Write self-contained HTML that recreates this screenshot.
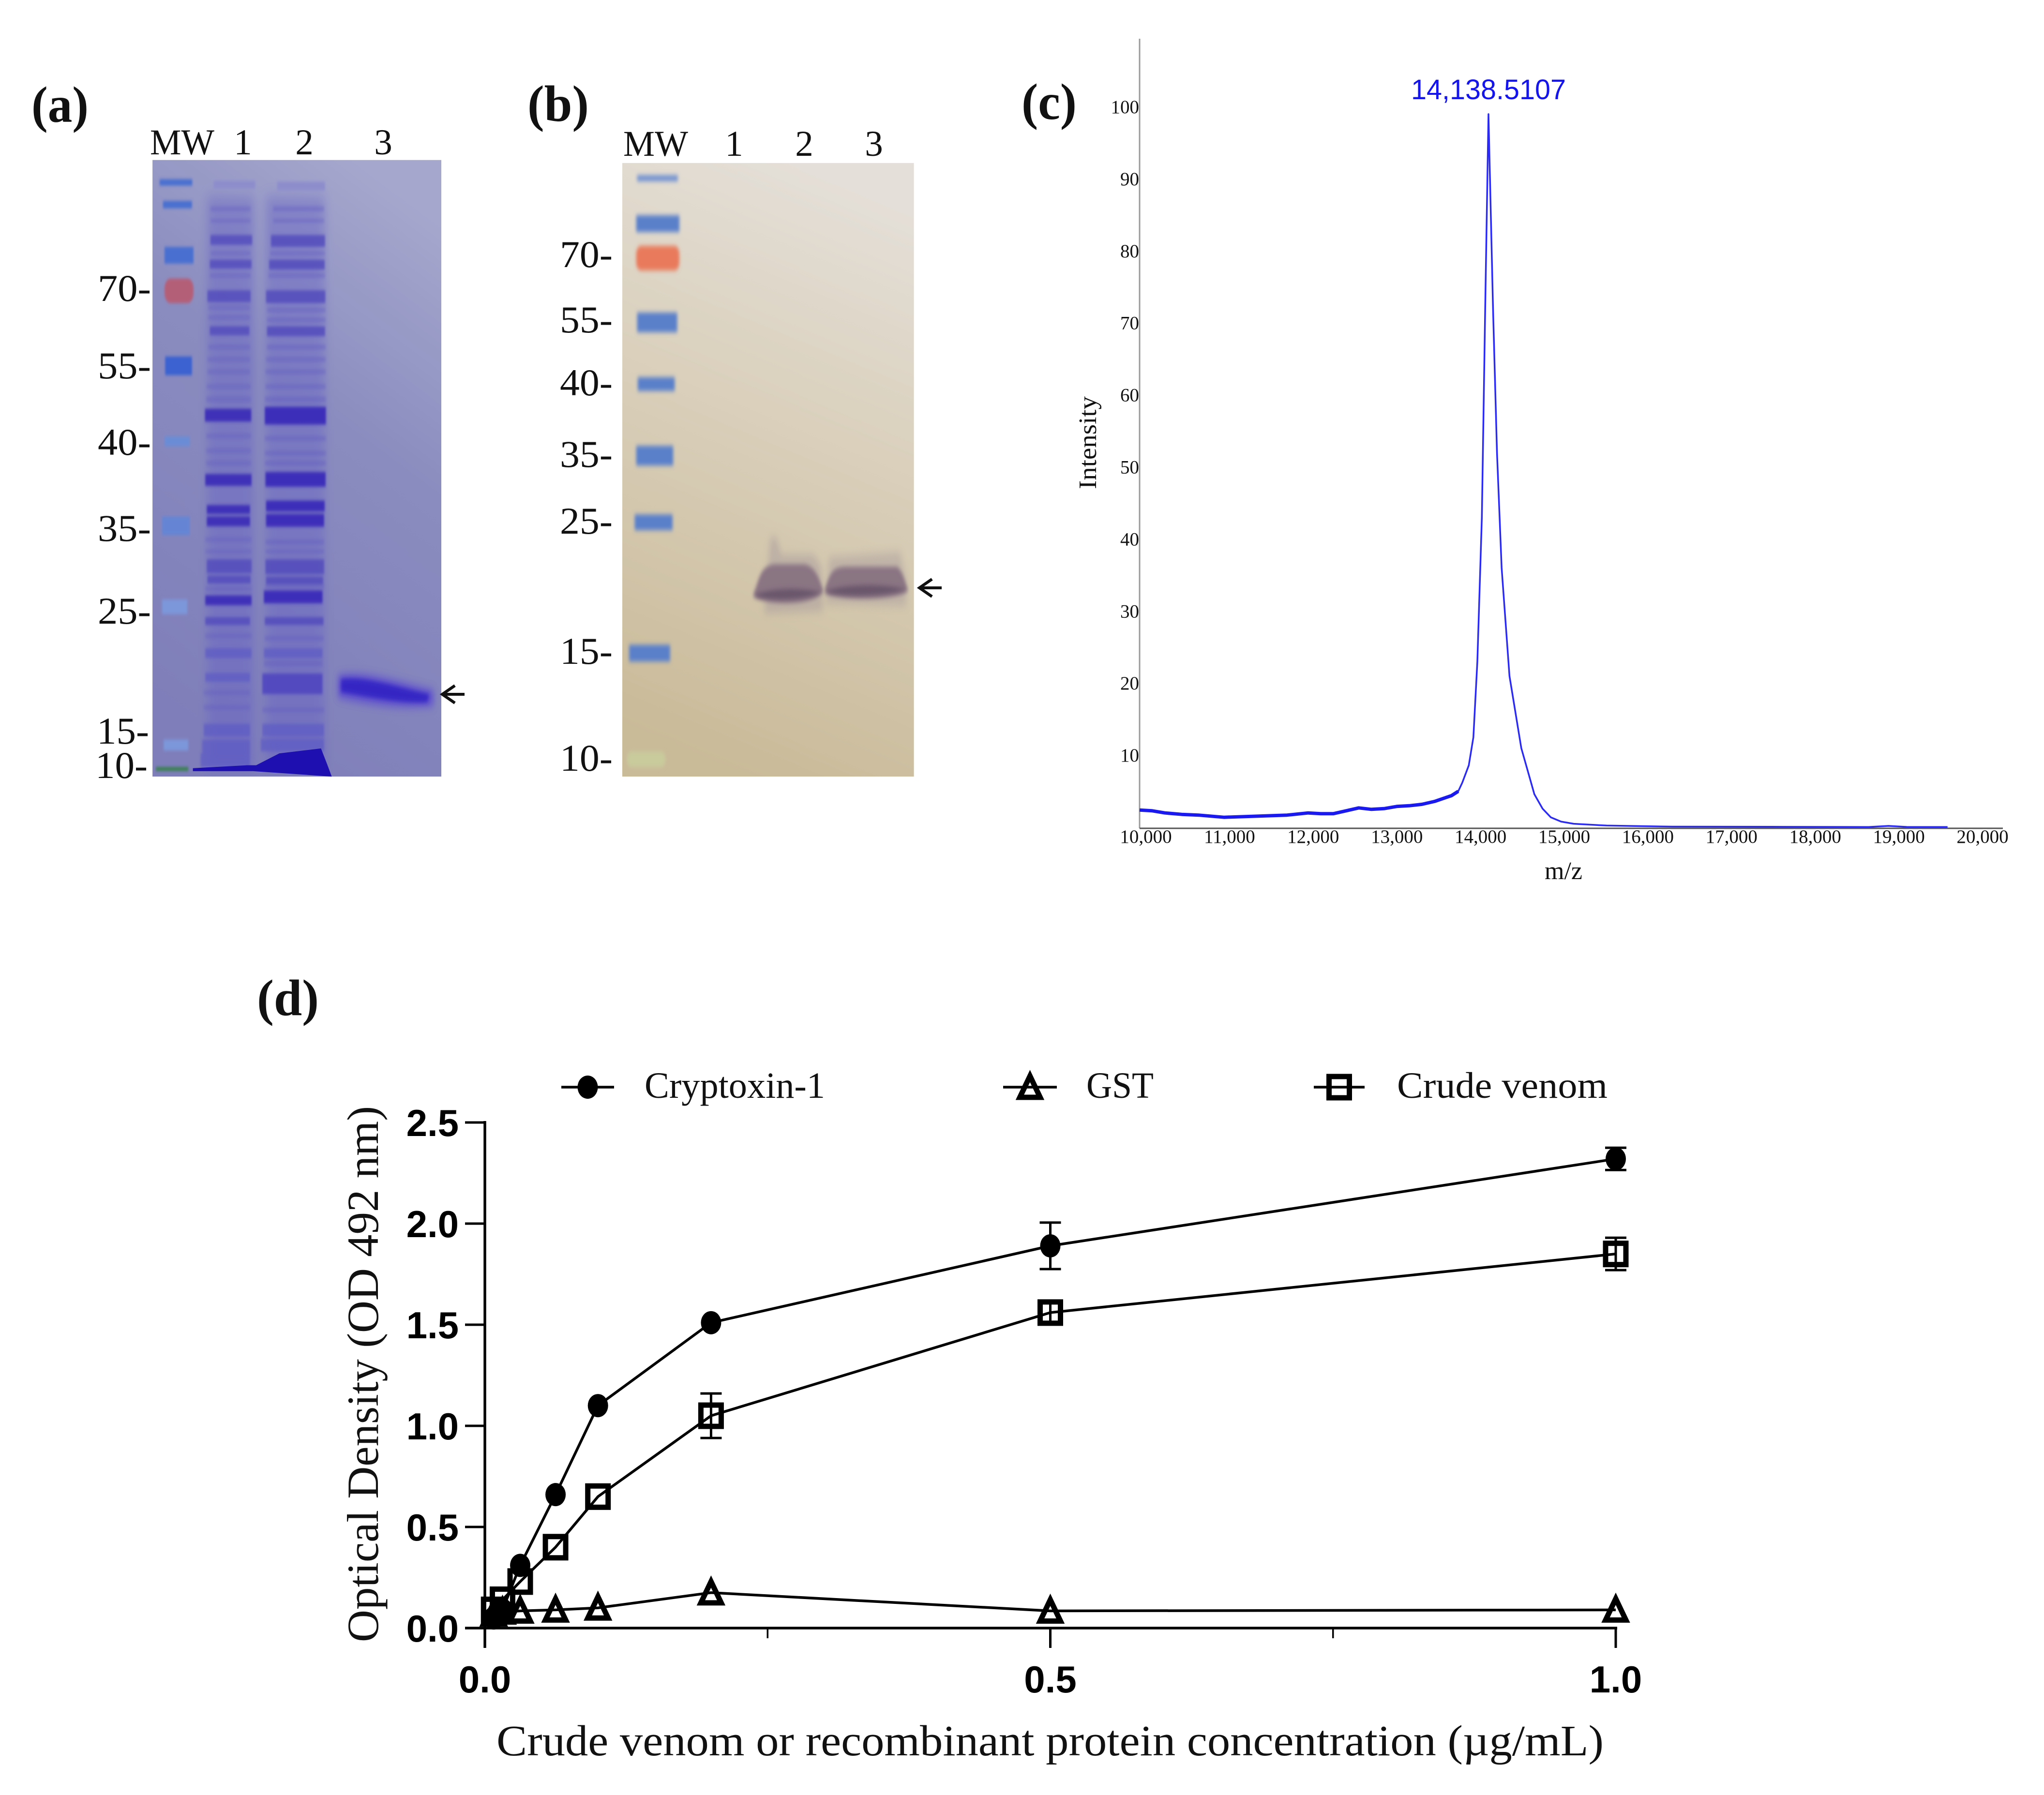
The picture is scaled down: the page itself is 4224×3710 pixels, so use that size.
<!DOCTYPE html>
<html lang="en">
<head>
<meta charset="utf-8">
<title>Cryptoxin-1 characterisation figure</title>
<style>
html,body{margin:0;padding:0;background:#fff;width:4224px;height:3710px;overflow:hidden}
svg{display:block}
text{font-family:"Liberation Serif",serif;fill:#111}
.sans{font-family:"Liberation Sans",sans-serif;font-weight:700}
</style>
</head>
<body>
<svg id="fig" xmlns="http://www.w3.org/2000/svg" width="4224" height="3710" viewBox="0 0 4224 3710">
<defs>
<linearGradient id="gelA" x1="0.7" y1="0" x2="0.35" y2="1">
<stop offset="0" stop-color="#a5a7cd"/><stop offset=".4" stop-color="#8a8cbf"/><stop offset="1" stop-color="#7f7eba"/>
</linearGradient>
<linearGradient id="gelB" x1="0.6" y1="0" x2="0.4" y2="1">
<stop offset="0" stop-color="#e4dfd8"/><stop offset=".4" stop-color="#dad0bc"/><stop offset="1" stop-color="#c9ba98"/>
</linearGradient>
<filter id="b2" filterUnits="userSpaceOnUse" x="-100" y="-100" width="2000" height="2000"><feGaussianBlur stdDeviation="3.5"/></filter>
<filter id="b3" filterUnits="userSpaceOnUse" x="-100" y="-100" width="2000" height="2000"><feGaussianBlur stdDeviation="5"/></filter>
<filter id="b8" filterUnits="userSpaceOnUse" x="-100" y="-100" width="2000" height="2000"><feGaussianBlur stdDeviation="9"/></filter>
<filter id="b16" filterUnits="userSpaceOnUse" x="-100" y="-100" width="2000" height="2000"><feGaussianBlur stdDeviation="14"/></filter>
<clipPath id="clipA"><rect x="494" y="226" width="936" height="1249"/></clipPath>
<clipPath id="clipB"><rect x="370" y="232" width="945" height="1243"/></clipPath>
</defs>

<!-- Panel a -->
<g>
<text x="65" y="252" font-size="106" font-weight="700" textLength="118" lengthAdjust="spacingAndGlyphs">(a)</text>
<g transform="translate(0,100) scale(.6378,1.0204)" clip-path="url(#clipA)">
<rect x="494" y="226" width="936" height="1249" fill="url(#gelA)"/>
<g filter="url(#b16)" fill="#6560c6" opacity=".42">
<rect x="672" y="300" width="150" height="1160"/><rect x="862" y="300" width="190" height="1160"/>
</g>
<g filter="url(#b2)">
<path fill="#4a70d0" d="M517 265h106v13h-106zM528 309h94v15h-94zM533 402h94v34h-94z"/>
<rect x="533" y="466" width="94" height="50" rx="20" fill="#b45f78"/>
<path fill="#3a62d0" d="M535 624h87v38h-87z"/>
<path fill="#6a8cd6" d="M533 786h82v20h-82z"/>
<path fill="#6585d4" d="M525 948h90v38h-90z"/>
<path fill="#7b97da" d="M525 1116h82v30h-82zM530 1400h80v22h-80z"/>
<path fill="#2f8040" d="M505 1456h105v7h-105z"/>
</g>
<g filter="url(#b2)" fill="#5f59c0" opacity=".32">
<path d="M682 320h130v10h-130zM682 345h130v8h-130zM682 410h130v10h-130zM680 455h132v10h-132zM675 520h135v10h-135zM675 540h135v10h-135zM675 600h135v10h-135zM672 625h138v10h-138zM672 650h138v10h-138zM670 680h142v10h-142zM668 705h145v12h-145zM668 780h145v10h-145zM668 810h145v10h-145zM668 835h145v10h-145zM665 990h150v10h-150zM665 1015h150v8h-150zM665 1090h150v10h-150zM665 1185h150v10h-150zM660 1300h150v10h-150zM660 1330h150v10h-150z"/>
</g>
<g filter="url(#b2)" fill="#5f59c0" opacity=".36">
<path d="M885 320h165v10h-165zM885 345h165v8h-165zM875 410h178v10h-178zM870 455h183v10h-183zM865 525h190v10h-190zM865 545h190v10h-190zM865 600h190v10h-190zM862 625h193v10h-193zM860 650h195v10h-195zM860 680h195v10h-195zM858 705h198v12h-198zM858 785h198v10h-198zM858 815h198v10h-198zM858 835h198v10h-198zM860 995h190v10h-190zM860 1015h190v8h-190zM860 1085h190v10h-190zM858 1190h190v10h-190zM855 1240h190v12h-190zM850 1335h200v10h-200z"/>
</g>
<g filter="url(#b2)">
<path fill="#8d8dcc" d="M692 268h135v16h-135z"/>
<path fill="#5048bc" opacity=".78" d="M682 378h135v20h-135zM680 428h135v18h-135zM672 490h140v24h-140zM680 563h128v18h-128zM670 1035h145v28h-145zM672 1068h140v16h-140zM665 1152h145v16h-145z"/>
<path fill="#3f33b8" d="M664 730h150v26h-150zM665 862h150v24h-150zM670 925h140v18h-140zM670 948h140v20h-140zM665 1108h150v20h-150z"/>
<path fill="#5c58c4" opacity=".7" d="M665 1215h150v20h-150zM665 1265h145v18h-145zM660 1368h150v26h-150zM655 1400h155v28h-155zM650 1428h160v28h-160z"/>
</g>
<g filter="url(#b2)">
<path fill="#8d8dcc" d="M898 270h155v18h-155z"/>
<path fill="#5048bc" opacity=".82" d="M878 378h175v24h-175zM872 428h180v20h-180zM862 490h192v26h-192zM865 563h188v20h-188zM860 1035h190v30h-190zM862 1070h185v16h-185zM858 1152h190v16h-190z"/>
<path fill="#3c2fb9" d="M858 726h198v36h-198zM860 858h195v30h-195zM862 916h190v22h-190zM862 943h188v26h-188zM855 1098h190v26h-190z"/>
<path fill="#4d45bf" opacity=".88" d="M850 1266h195v42h-195z"/>
<path fill="#5c58c4" opacity=".7" d="M855 1215h190v20h-190zM850 1368h200v26h-200zM845 1398h205v26h-205z"/>
</g>
<path fill="#1d0fb0" d="M625 1458L800 1452L830 1452L905 1428L1040 1418L1060 1450L1075 1475L960 1470L820 1464L625 1464Z"/>
<g>
<path d="M1095 1270C1180 1258 1300 1285 1405 1300L1405 1332C1300 1340 1180 1328 1095 1315Z" fill="#5a48d0" filter="url(#b8)" opacity=".85"/>
<path d="M1105 1278C1180 1270 1300 1296 1390 1308L1385 1324C1300 1328 1180 1312 1105 1304Z" fill="#3625c4" filter="url(#b3)"/>
</g>
</g>
<text x="310" y="319" font-size="75" textLength="133" lengthAdjust="spacingAndGlyphs">MW</text>
<text x="502" y="319" font-size="75" text-anchor="middle">1</text>
<text x="629" y="319" font-size="75" text-anchor="middle">2</text>
<text x="792" y="319" font-size="75" text-anchor="middle">3</text>
<text x="202" y="622" font-size="78" textLength="110" lengthAdjust="spacingAndGlyphs">70-</text>
<text x="202" y="782" font-size="78" textLength="110" lengthAdjust="spacingAndGlyphs">55-</text>
<text x="202" y="940" font-size="78" textLength="110" lengthAdjust="spacingAndGlyphs">40-</text>
<text x="202" y="1118" font-size="78" textLength="110" lengthAdjust="spacingAndGlyphs">35-</text>
<text x="202" y="1289" font-size="78" textLength="110" lengthAdjust="spacingAndGlyphs">25-</text>
<text x="200" y="1537" font-size="78" textLength="108" lengthAdjust="spacingAndGlyphs">15-</text>
<text x="197" y="1608" font-size="78" textLength="108" lengthAdjust="spacingAndGlyphs">10-</text>
<path d="M960 1435H916M940 1417L914 1435L940 1453" fill="none" stroke="#111" stroke-width="6"/>
</g>

<!-- Panel b -->
<g>
<text x="1090" y="250" font-size="106" font-weight="700" textLength="127" lengthAdjust="spacingAndGlyphs">(b)</text>
<g transform="translate(1050,100) scale(.6378,1.0204)" clip-path="url(#clipB)">
<rect x="370" y="232" width="945" height="1243" fill="url(#gelB)"/>
<g filter="url(#b3)">
<path fill="#6d8fd0" d="M418 257h132v12h-132z"/>
<path fill="#5a80ca" d="M415 338h140v34h-140zM418 535h130v40h-130zM420 666h120v28h-120zM415 805h120v40h-120zM410 944h123v32h-123zM392 1208h133v34h-133z"/>
<rect x="415" y="400" width="140" height="50" rx="16" fill="#e97a5c"/>
<rect x="385" y="1424" width="125" height="32" rx="14" fill="#c9cb9c"/>
</g>
<g>
<path d="M850 990L870 990L885 1025L990 1025L1015 1050L1020 1140L830 1145Z" fill="#a79a9c" opacity=".5" filter="url(#b8)"/>
<path d="M795 1105C815 1075 815 1050 860 1045L960 1045C1000 1050 1010 1080 1022 1100C990 1128 860 1130 795 1112Z" fill="#8a7483" filter="url(#b3)"/>
<path d="M805 1105C870 1092 950 1092 1015 1102C960 1118 860 1120 805 1110Z" fill="#6b566c" filter="url(#b3)"/>
</g>
<g>
<path d="M1040 1030L1270 1020L1290 1080L1290 1130L1030 1125Z" fill="#a79a9c" opacity=".45" filter="url(#b8)"/>
<path d="M1026 1096C1045 1062 1050 1052 1090 1050L1260 1050C1280 1060 1285 1080 1296 1098C1270 1118 1080 1120 1026 1104Z" fill="#8a7483" filter="url(#b3)"/>
<path d="M1035 1098C1100 1084 1220 1084 1288 1096C1230 1110 1090 1112 1035 1102Z" fill="#6b566c" filter="url(#b3)"/>
</g>
</g>
<text x="1288" y="322" font-size="75" textLength="134" lengthAdjust="spacingAndGlyphs">MW</text>
<text x="1517" y="322" font-size="75" text-anchor="middle">1</text>
<text x="1662" y="322" font-size="75" text-anchor="middle">2</text>
<text x="1806" y="322" font-size="75" text-anchor="middle">3</text>
<text x="1157" y="552" font-size="78" textLength="109" lengthAdjust="spacingAndGlyphs">70-</text>
<text x="1157" y="687" font-size="78" textLength="109" lengthAdjust="spacingAndGlyphs">55-</text>
<text x="1157" y="817" font-size="78" textLength="109" lengthAdjust="spacingAndGlyphs">40-</text>
<text x="1157" y="965" font-size="78" textLength="109" lengthAdjust="spacingAndGlyphs">35-</text>
<text x="1157" y="1103" font-size="78" textLength="109" lengthAdjust="spacingAndGlyphs">25-</text>
<text x="1157" y="1372" font-size="78" textLength="109" lengthAdjust="spacingAndGlyphs">15-</text>
<text x="1157" y="1593" font-size="78" textLength="109" lengthAdjust="spacingAndGlyphs">10-</text>
<path d="M1946 1215H1902M1926 1197L1900 1215L1926 1233" fill="none" stroke="#111" stroke-width="6"/>
</g>

<!-- Panel c and d groups are filled by script -->
<g id="panelC">
<text x="2111" y="246" font-size="106" font-weight="700" textLength="114" lengthAdjust="spacingAndGlyphs">(c)</text>
<text x="3076" y="205" font-size="58" text-anchor="middle" textLength="320" lengthAdjust="spacingAndGlyphs" style="font-family:'Liberation Sans',sans-serif;fill:#1414f0">14,138.5107</text>
<text transform="translate(2265,915) rotate(-90)" font-size="52" text-anchor="middle" textLength="192" lengthAdjust="spacingAndGlyphs">Intensity</text>
<text x="3231" y="1817" font-size="52" text-anchor="middle">m/z</text>
</g>
<g id="panelD">
<text x="531" y="2098" font-size="106" font-weight="700" textLength="128" lengthAdjust="spacingAndGlyphs">(d)</text>
<text transform="translate(781,2840) rotate(-90)" font-size="92" text-anchor="middle" textLength="1108" lengthAdjust="spacingAndGlyphs">Optical Density (OD 492 nm)</text>
<text x="1026" y="3628" font-size="90" textLength="2288" lengthAdjust="spacingAndGlyphs">Crude venom or recombinant protein concentration (µg/mL)</text>
<text x="1332" y="2269" font-size="76" textLength="373" lengthAdjust="spacingAndGlyphs">Cryptoxin-1</text>
<text x="2245" y="2269" font-size="76" textLength="139" lengthAdjust="spacingAndGlyphs">GST</text>
<text x="2887" y="2269" font-size="76" textLength="435" lengthAdjust="spacingAndGlyphs">Crude venom</text>
</g>
</svg>

<script>
// Panel c: spectrum values
const mzValues = [10000,10150,10300,10500,10700,11000,11250,11500,11750,12000,12150,12300,12450,12600,12750,12900,13050,13200,13350,13500,13600,13700,13780,13828,13905,13960,14007,14060,14100,14139,14193,14240,14295,14388,14528,14683,14780,14878,15000,15150,15540,16317,17500,18650,18885,19100,19585];
const intensityValues = [2.4,2.3,2.0,1.8,1.7,1.4,1.5,1.6,1.7,2.0,1.9,1.9,2.3,2.7,2.5,2.6,2.9,3.0,3.2,3.6,4.0,4.4,5.0,6.2,8.6,12.5,23,43,72,99,72,52,36,21,11,4.6,2.6,1.4,0.8,0.5,0.25,0.1,0.08,0.05,0.2,0.06,0.05];
const mzTickLabels = ["10,000","11,000","12,000","13,000","14,000","15,000","16,000","17,000","18,000","19,000","20,000"];
const intensityTickLabels = [10,20,30,40,50,60,70,80,90,100];

// Panel d: ELISA values
const concentrations = [0.0078,0.0156,0.03125,0.0625,0.1,0.2,0.5,1.0];
const cryptoxinValues = [0.05,0.09,0.31,0.66,1.10,1.51,1.89,2.32];
const cryptoxinErrors = [0.01,0.01,0.01,0.01,0.02,0.02,0.115,0.055];
const gstValues = [0.07,0.08,0.085,0.09,0.10,0.175,0.085,0.09];
const gstErrors = [0,0,0,0,0,0,0,0];
const crudeValues = [0.09,0.14,0.23,0.40,0.65,1.05,1.56,1.85];
const crudeErrors = [0.01,0.01,0.02,0.02,0.03,0.11,0.05,0.08];
const elisaYTicks = ["0.0","0.5","1.0","1.5","2.0","2.5"];
const elisaXTicks = ["0.0","0.5","1.0"];
const elisaXMinorTicks = [0.25,0.75];

const NS = "http://www.w3.org/2000/svg";
function mk(parent, tag, attrs, txt) {
  const e = document.createElementNS(NS, tag);
  for (const k in attrs) e.setAttribute(k, attrs[k]);
  if (txt !== undefined) e.textContent = txt;
  parent.appendChild(e);
  return e;
}

// ---------- Panel c ----------
const panelC = document.getElementById("panelC");
const mzX = m => 2355 + (m - 10000) * 0.1742;
const intY = v => 1710 - v * 14.89;

const cYAxis = mk(panelC, "line", {x1:2355,y1:80,x2:2355,y2:1712,stroke:"#9a9a9a","stroke-width":3});


const cXAxis = mk(panelC, "line", {x1:2355,y1:1712,x2:4139,y2:1712,stroke:"#555","stroke-width":3});



mzTickLabels.forEach((lab, i) => {
  const t = mk(panelC, "text", {x:mzX(10000 + i * 1000) + 13 * (1 - i / 10), y:1742, "font-size":39, "text-anchor":"middle"}, lab);
  
  
});
intensityTickLabels.forEach(v => {
  const t = mk(panelC, "text", {x:2354, y:intY(v) + 13, "font-size":39, "text-anchor":"end"}, String(v));
  
  
});
const spectrumPts = mzValues.map((m, i) => mzX(m).toFixed(1) + "," + intY(intensityValues[i]).toFixed(1)).join(" ");
const spectrum = mk(panelC, "polyline", {points:spectrumPts, fill:"none", stroke:"#2a2af2", "stroke-width":3.5, "stroke-linejoin":"round"});


const baselinePts = mzValues.map((m, i) => m <= 13780 ? mzX(m).toFixed(1) + "," + intY(intensityValues[i]).toFixed(1) : "").join(" ");
const baselineNoise = mk(panelC, "polyline", {points:baselinePts, fill:"none", stroke:"#1a1af0", "stroke-width":7, "stroke-linejoin":"round"});



// ---------- Panel d ----------
const panelD = document.getElementById("panelD");
const cX = c => 1002 + c * 2337;
const odY = v => 3365 - v * 418;

const dYAxis = mk(panelD, "line", {x1:cX(0),y1:odY(2.5)-3,x2:cX(0),y2:3406,stroke:"#000","stroke-width":5.5});


const dXAxis = mk(panelD, "line", {x1:961,y1:odY(0),x2:cX(1)+3,y2:odY(0),stroke:"#000","stroke-width":5.5});



elisaYTicks.forEach(lab => {
  const v = parseFloat(lab);
  const tk = mk(panelD, "line", {x1:961,y1:odY(v),x2:cX(0),y2:odY(v),stroke:"#000","stroke-width":5});
  
  
  const t = mk(panelD, "text", {class:"sans", x:948, y:odY(v) + 28, "font-size":78, "text-anchor":"end", style:"fill:#000"}, lab);
  
  
});
elisaXTicks.forEach(lab => {
  const v = parseFloat(lab);
  const tk = mk(panelD, "line", {x1:cX(v),y1:odY(0),x2:cX(v),y2:3406,stroke:"#000","stroke-width":5});
  
  
  const t = mk(panelD, "text", {class:"sans", x:cX(v), y:3498, "font-size":78, "text-anchor":"middle", style:"fill:#000"}, lab);
  
  
});
elisaXMinorTicks.forEach(v => {
  const tk = mk(panelD, "line", {x1:cX(v),y1:odY(0),x2:cX(v),y2:3386,stroke:"#000","stroke-width":3.5});
  
  
});

function marker(g, kind, x, y) {
  if (kind === "circle") return mk(g, "ellipse", {cx:x, cy:y, rx:21, ry:24, fill:"#000"});
  if (kind === "square") return mk(g, "rect", {x:x-21, y:y-22, width:42, height:44, fill:"none", stroke:"#000", "stroke-width":11});
  return mk(g, "path", {d:`M${x} ${y-23}L${x+21} ${y+21}H${x-21}Z`, fill:"none", stroke:"#000", "stroke-width":11, "stroke-linejoin":"miter"});
}
function drawSeries(name, kind, vals, errs) {
  const g = mk(panelD, "g", {});
  
  
  const pts = concentrations.map((c, i) => cX(c).toFixed(1) + "," + odY(vals[i]).toFixed(1)).join(" ");
  const line = mk(g, "polyline", {points:pts, fill:"none", stroke:"#000", "stroke-width":5.5});
  
  
  concentrations.forEach((c, i) => {
    if (errs[i] >= 0.04) {
      const x = cX(c), hi = odY(vals[i] + errs[i]), lo = odY(vals[i] - errs[i]);
      const eb = mk(g, "path", {d:`M${x-22} ${hi}H${x+22}M${x} ${hi}V${lo}M${x-22} ${lo}H${x+22}`, fill:"none", stroke:"#000", "stroke-width":5});
      
      
    }
    const m = marker(g, kind, cX(c), odY(vals[i]));
    
    
  });
}
drawSeries("series-gst", "triangle", gstValues, gstErrors);
drawSeries("series-crude-venom", "square", crudeValues, crudeErrors);
drawSeries("series-cryptoxin-1", "circle", cryptoxinValues, cryptoxinErrors);

// legend glyphs
const legendG = mk(panelD, "g", {});


[["circle",1160,1269],["triangle",2073,2184],["square",2715,2820]].forEach(e => {
  const l = mk(legendG, "line", {x1:e[1],y1:2247,x2:e[2],y2:2247,stroke:"#000","stroke-width":5.5});
  
  
  const m = marker(legendG, e[0], (e[1] + e[2]) / 2, 2247);
  
  
});
</script>
</body>
</html>
